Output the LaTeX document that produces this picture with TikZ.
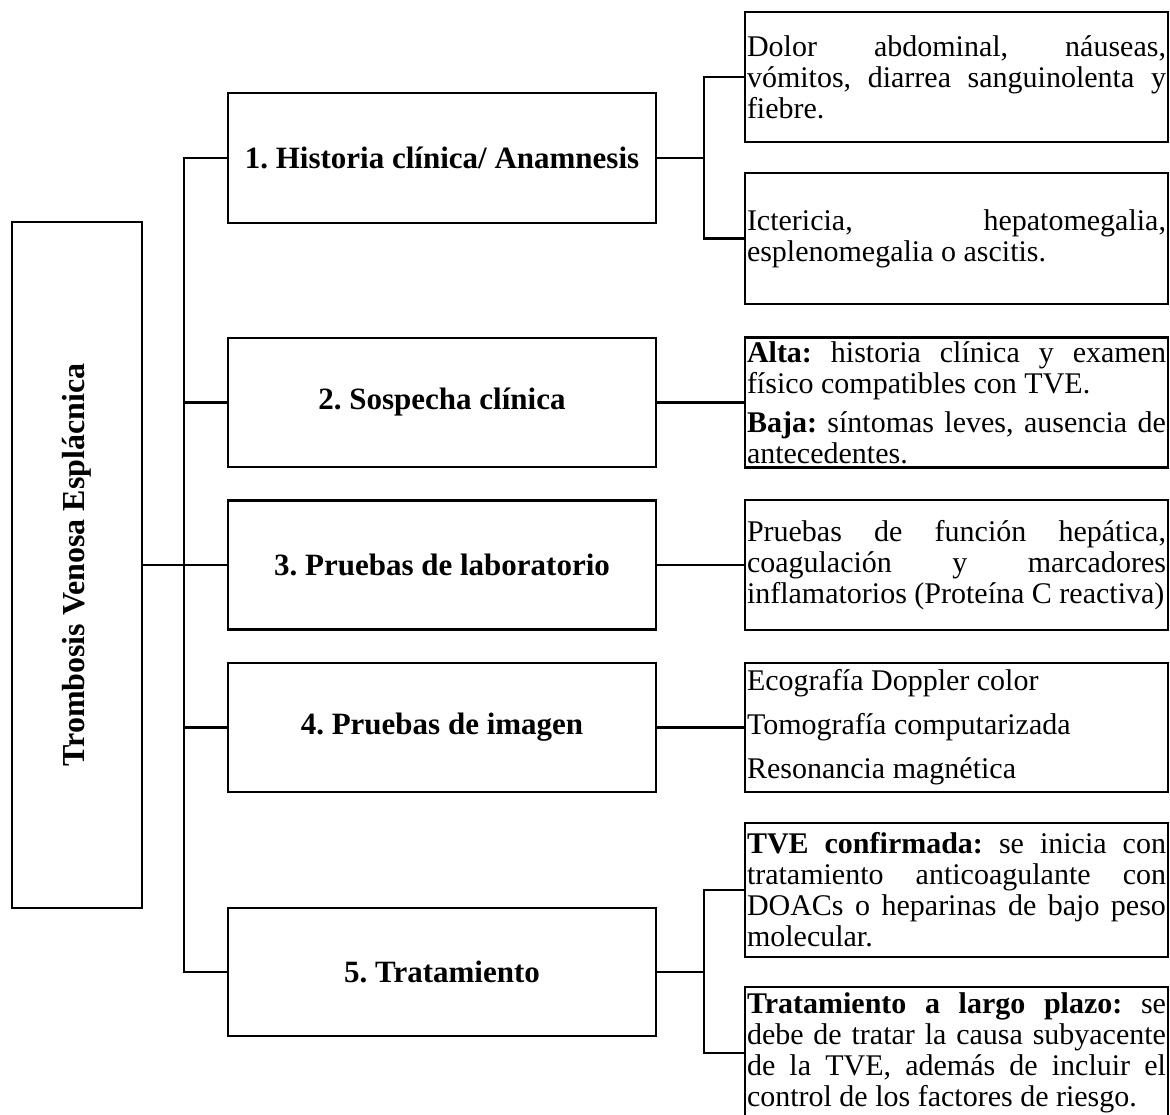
\documentclass[tikz,border=0pt]{standalone}
\usepackage{fontspec}
\setmainfont{Liberation Serif}
\newlength\rtw
\setlength\rtw{419pt}
\newcommand\jl[1]{\makebox[\rtw][s]{\spaceskip=.25em plus 8em\xspaceskip=.25em plus 8em\relax #1}}
\frenchspacing
\begin{document}
\frenchspacing
\begin{tikzpicture}[x=1pt,y=-1pt,
  tbox/.style={draw, line width=2.6pt, rectangle, inner sep=0pt},
  mbox/.style={tbox, minimum width=428, font=\bfseries\fontsize{31}{34}\selectfont},
  rbox/.style={tbox, inner xsep=2pt, text width=419pt, align=left, font=\fontsize{30}{31}\selectfont,
    execute at begin node={\spaceskip=.25em plus .05em\xspaceskip=.25em plus .05em\relax}},
  link/.style={line width=2.4pt}]
\clip (0,0) rectangle (1170,1114);
\fill[white] (0,0) rectangle (1170,1114);
% root
\node[tbox, minimum width=130, minimum height=686, font=\bfseries\fontsize{32}{34}\selectfont] (title) at (77,565) {\rotatebox{90}{Trombosis Venosa Esplácnica}};
% middle column
\node[mbox, minimum height=130] (m1) at (442,158) {1. Historia clínica/ Anamnesis};
\node[mbox, minimum height=129] (m2) at (442,402.5) {2. Sospecha clínica};
\node[mbox, minimum height=129] (m3) at (442,565) {3. Pruebas de laboratorio};
\node[mbox, minimum height=129] (m4) at (442,727.5) {4. Pruebas de imagen};
\node[mbox, minimum height=128] (m5) at (442,972) {5. Tratamiento};
% right column
\node[rbox, minimum height=130] (rA) at (956.5,77) {\jl{Dolor abdominal, náuseas,}\\ \jl{vómitos, diarrea sanguinolenta y}\\ fiebre.};
\node[rbox, minimum height=131] (rB) at (956.5,238.5) {\jl{Ictericia, hepatomegalia,}\\ esplenomegalia o ascitis.};
\node[rbox, minimum height=130] (rC) at (956.5,402.5) {\jl{\textbf{Alta:} historia clínica y examen}\\ físico compatibles con TVE.\\[8pt] \jl{\textbf{Baja:} síntomas leves, ausencia de}\\ antecedentes.};
\node[rbox, minimum height=130] (rD) at (956.5,565) {\jl{Pruebas de función hepática,}\\ \jl{coagulación y marcadores}\\ \mbox{inflamatorios (Proteína C reactiva)}};
\node[rbox, minimum height=129] (rE) at (956.5,727.5) {Ecografía Doppler color\\[13pt] Tomografía computarizada\\[13pt] Resonancia magnética};
\node[rbox, minimum height=134] (rF) at (956.5,890) {\jl{\textbf{TVE confirmada:} se inicia con}\\ \jl{tratamiento anticoagulante con}\\ \jl{DOACs o heparinas de bajo peso}\\ molecular.};
\node[rbox, minimum height=132] (rG) at (956.5,1053) {\jl{\textbf{Tratamiento a largo plazo:} se}\\ \jl{debe de tratar la causa subyacente}\\ \jl{de la TVE, además de incluir el}\\ control de los factores de riesgo.};
% connectors left
\coordinate (bus) at (184,565);
\draw[link] (title.east) -- (bus);
\draw[link] (m1.west) -- (m1.west -| bus) -- (m5.west -| bus) -- (m5.west);
\foreach \n in {m2,m3,m4} \draw[link] (\n.west) -- (\n.west -| bus);
% connectors right
\coordinate (e1) at (704,158);
\draw[link] (m1.east) -- (e1);
\draw[link] (rA.west) -- (rA.west -| e1) -- (rB.west -| e1) -- (rB.west);
\draw[link] (m2.east) -- (rC.west);
\draw[link] (m3.east) -- (rD.west);
\draw[link] (m4.east) -- (rE.west);
\coordinate (e2) at (704,972);
\draw[link] (m5.east) -- (e2);
\draw[link] (rF.west) -- (rF.west -| e2) -- (rG.west -| e2) -- (rG.west);
\end{tikzpicture}
\end{document}
